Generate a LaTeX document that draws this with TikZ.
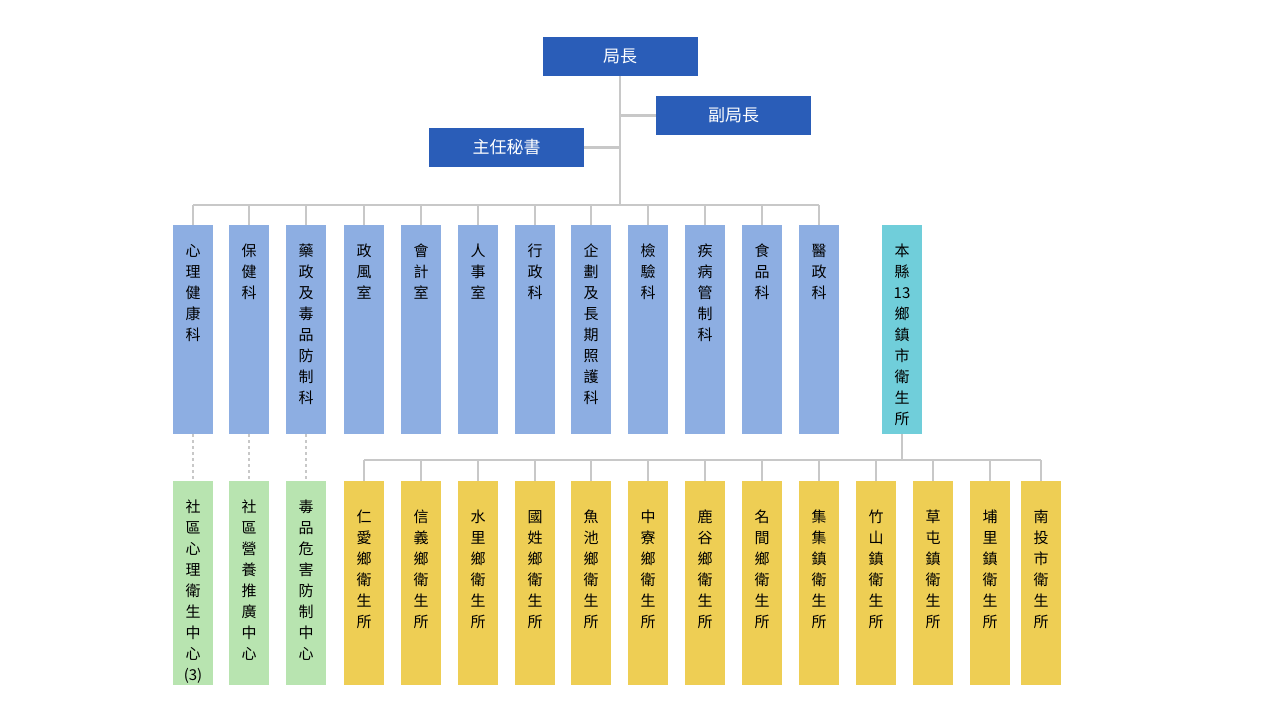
\documentclass[tikz,border=0pt]{standalone}
\usepackage{fontspec}
\newfontfamily\cjk{Noto Sans CJK TC}
\begin{document}
\begin{tikzpicture}[x=1pt,y=-1pt,font=\cjk\fontsize{15}{21}\selectfont,
 head/.style={fill={rgb,255:red,42;green,93;blue,184},text=white,minimum width=155pt,minimum height=39pt,inner sep=0pt,font=\cjk\fontsize{17}{20}\selectfont},
 col/.style={minimum width=40pt,inner sep=0pt,align=center,anchor=north,text depth=0pt},
 dept/.style={col,fill={rgb,255:red,141;green,174;blue,226},minimum height=209pt},
 town/.style={col,fill={rgb,255:red,238;green,206;blue,84},minimum height=204pt},
 cent/.style={col,fill={rgb,255:red,184;green,228;blue,176},minimum height=204pt},
 cyan/.style={col,fill={rgb,255:red,112;green,206;blue,218},minimum height=209pt},
 ln/.style={draw={rgb,255:red,200;green,200;blue,200},line width=2.5pt},
 dl/.style={ln,dashed}]
\useasboundingbox (0,0) rectangle (1280,720);
\node[head] (chief) at (620,56.5) {局長};
\node[head] (dep) at (733.5,115.5) {副局長};
\node[head] (sec) at (506.5,147.5) {主任秘書};
\coordinate (top) at (620,76);
\coordinate (mid) at (620,205);
\draw[ln] (top) -- (mid);
\draw[ln] (620,115.5) -- (dep.west);
\draw[ln] (620,147.5) -- (sec.east);
\draw[ln] (193,205) -- (819,205);
\foreach \x/\t/\n in {193/心\\理\\健\\康\\科/d1,249/保\\健\\科/d2,306/藥\\政\\及\\毒\\品\\防\\制\\科/d3,364/政\\風\\室/d4,421/會\\計\\室/d5,478/人\\事\\室/d6,535/行\\政\\科/d7,591/企\\劃\\及\\長\\期\\照\\護\\科/d8,648/檢\\驗\\科/d9,705/疾\\病\\管\\制\\科/d10,762/食\\品\\科/d11,819/醫\\政\\科/d12}{
 \node[dept] (\n) at (\x,225) {};
 \node[anchor=north,align=center,inner sep=0pt] at (\x,244) {\t};
 \draw[ln] (\x,205) -- (\n.north);
}
\node[cyan] (cy) at (902,225) {};
\node[anchor=north,align=center,inner sep=0pt] at (902,244) {本\\縣\\13\\鄉\\鎮\\市\\衛\\生\\所};
\draw[ln] (cy.south) -- (902,460);
\draw[ln] (364,460) -- (1041,460);
\foreach \x/\t/\n in {364/仁\\愛/t1,421/信\\義/t2,478/水\\里/t3,535/國\\姓/t4,591/魚\\池/t5,648/中\\寮/t6,705/鹿\\谷/t7,762/名\\間/t8,819/集\\集/t9,876/竹\\山/t10,933/草\\屯/t11,990/埔\\里/t12,1041/南\\投/t13}{
 \node[town] (\n) at (\x,481) {};
 \draw[ln] (\x,460) -- (\n.north);
}
\foreach \x/\t in {364/仁\\愛\\鄉,421/信\\義\\鄉,478/水\\里\\鄉,535/國\\姓\\鄉,591/魚\\池\\鄉,648/中\\寮\\鄉,705/鹿\\谷\\鄉,762/名\\間\\鄉,819/集\\集\\鎮,876/竹\\山\\鎮,933/草\\屯\\鎮,990/埔\\里\\鎮,1041/南\\投\\市}
 \node[anchor=north,align=center,inner sep=0pt] at (\x,510) {\t\\衛\\生\\所};
\foreach \x/\t/\n/\p in {193/社\\區\\心\\理\\衛\\生\\中\\心\\(3)/c1/d1,249/社\\區\\營\\養\\推\\廣\\中\\心/c2/d2,306/毒\\品\\危\\害\\防\\制\\中\\心/c3/d3}{
 \node[cent] (\n) at (\x,481) {};
 \node[anchor=north,align=center,inner sep=0pt] at (\x,500) {\t};
 \draw[dl] (\p.south) -- (\n.north);
}
\end{tikzpicture}
\end{document}
